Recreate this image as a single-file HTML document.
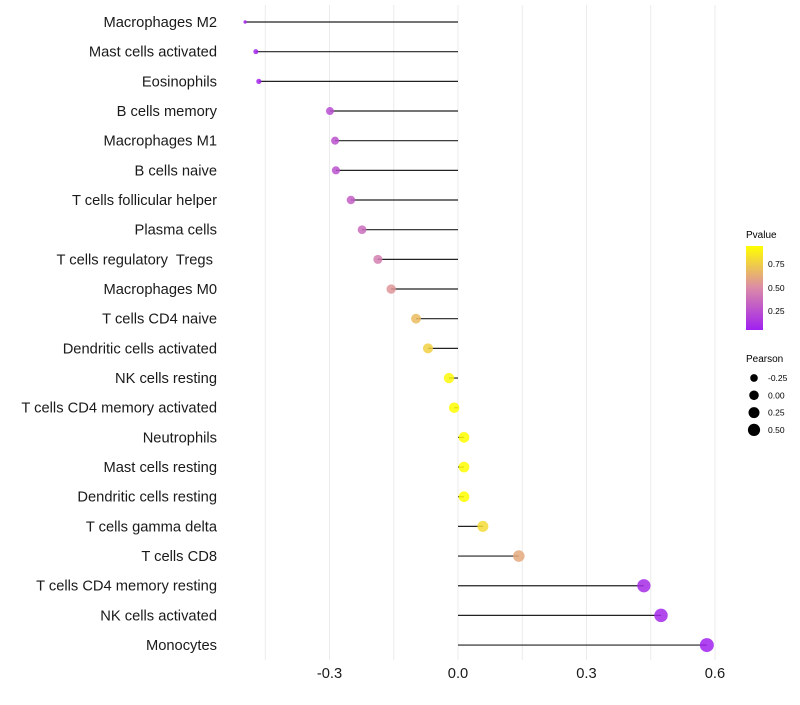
<!DOCTYPE html>
<html><head><meta charset="utf-8"><style>
body{margin:0;background:#fff;font-family:"Liberation Sans",sans-serif}
text{white-space:pre}
</style></head><body>
<svg id="c" width="800" height="700" xmlns="http://www.w3.org/2000/svg" xml:space="preserve">
<defs><linearGradient id="pg" x1="0" y1="1" x2="0" y2="0">
<stop offset="0" stop-color="#a020f0"/><stop offset="0.5" stop-color="#db8aa8"/><stop offset="1" stop-color="#ffff00"/></linearGradient></defs>
<g id="grid"></g><g id="marks"></g><g id="ylab"></g><g id="xlab"></g>
<g>
<text x="746" y="238" font-size="10" fill="#000">Pvalue</text>
<rect x="746" y="246" width="17" height="84" fill="url(#pg)"/>
<text x="768" y="267" font-size="8.5">0.75</text>
<text x="768" y="291" font-size="8.5">0.50</text>
<text x="768" y="314" font-size="8.5">0.25</text>
</g>
<g id="plg">
<text x="746" y="362" font-size="10">Pearson</text>
</g>
</svg>
<script>
const cats=["Macrophages M2","Mast cells activated","Eosinophils","B cells memory","Macrophages M1","B cells naive","T cells follicular helper","Plasma cells","T cells regulatory  Tregs ","Macrophages M0","T cells CD4 naive","Dendritic cells activated","NK cells resting","T cells CD4 memory activated","Neutrophils","Mast cells resting","Dendritic cells resting","T cells gamma delta","T cells CD8","T cells CD4 memory resting","NK cells activated","Monocytes"];
const pearson=[-0.497,-0.472,-0.465,-0.299,-0.287,-0.285,-0.25,-0.224,-0.187,-0.156,-0.098,-0.07,-0.021,-0.009,0.014,0.014,0.014,0.058,0.142,0.434,0.474,0.581];
const pvals=[0.02,0.03,0.03,0.2,0.22,0.22,0.28,0.34,0.42,0.52,0.68,0.76,0.92,0.95,0.95,0.95,0.95,0.8,0.6,0.05,0.04,0.01];
const xticks=[-0.3,0,0.3,0.6];
const xtickLabels=["-0.3","0.0","0.3","0.6"];
const ns="http://www.w3.org/2000/svg";
const X=v=>458+v*428.3;
const Y=i=>22+i*29.67;
const R=v=>1.7+5.3*Math.sqrt(Math.max(0,(v+0.497)/1.078));
function col(p){const s=[[160,32,240],[219,138,168],[255,255,0]];let t=Math.max(0,Math.min(1,p/0.95))*2;let i=Math.min(1,Math.floor(t));t-=i;const a=s[i],b=s[i+1];return `rgb(${a.map((c,k)=>Math.round(c+(b[k]-c)*t)).join(',')})`;}
function mk(tag,at,parent){const e=document.createElementNS(ns,tag);for(const k in at)e.setAttribute(k,at[k]);document.getElementById(parent).appendChild(e);return e;}
[-0.45,-0.3,-0.15,0,0.15,0.3,0.45,0.6].forEach(v=>{const l=mk('line',{x1:X(v),x2:X(v),y1:5,y2:660,stroke:'#ebebeb','stroke-width':1},'grid');});
cats.forEach((c,i)=>{
const l=mk('line',{x1:X(0),x2:X(pearson[i]),y1:Y(i),y2:Y(i),stroke:'#222','stroke-width':1.2},'marks');

const d=mk('circle',{cx:X(pearson[i]),cy:Y(i),r:R(pearson[i]),fill:col(pvals[i]),opacity:0.85},'marks');

const t=mk('text',{x:217,y:Y(i)+5,'text-anchor':'end','font-size':14.7,fill:'#1a1a1a'},'ylab');t.textContent=c;

});
xticks.forEach((v,i)=>{const t=mk('text',{x:X(v),y:678,'text-anchor':'middle','font-size':14.7,fill:'#1a1a1a'},'xlab');t.textContent=xtickLabels[i];
});
const lv=[-0.25,0,0.25,0.5],ll=["-0.25","0.00","0.25","0.50"];
lv.forEach((v,i)=>{const y=378+i*17.3;const c=mk('circle',{cx:754,cy:y,r:R(v)*0.9,fill:'#000'},'plg');
const t=mk('text',{x:768,y:y+3,'font-size':8.5},'plg');t.textContent=ll[i];});
</script>
</body></html>
